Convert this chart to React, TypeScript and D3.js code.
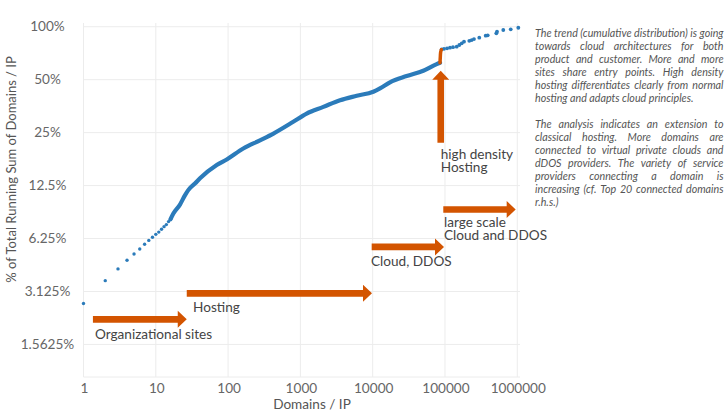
import * as d3 from 'd3';
import { useMemo } from 'react';

const W = 727;
const H = 414;

// y ticks (share of total running sum)
const yTickValues = [1, 0.5, 0.25, 0.125, 0.0625, 0.03125, 0.015625];
const yTickLabels = ['100%', '50%', '25%', '12.5%', '6.25%', '3.125%', '1.5625%'];
const xTickValues = [1, 10, 100, 1000, 10000, 100000, 1000000];

// sparse head of the distribution (one dot per domains/IP value)
const headDomains = [1, 2, 3, 4, 5, 6, 7, 8, 9, 10, 11, 12, 13, 14, 15, 16];
const headShare = [2.67, 3.6, 4.2, 4.7, 5.1, 5.45, 5.8, 6.1, 6.36, 6.6, 6.8, 7.05, 7.3, 7.5, 7.8, 8.05];

// dense body (drawn as a thick run of overlapping dots)
const bodyDomains = [16, 17.5, 21.6, 25.4, 28.1, 34.8, 40.9, 69.6, 95.8, 162, 276, 424, 796, 1220, 2074, 3532, 6010, 10190, 12620, 17340, 29500, 50100, 76800, 85300];
const bodyShare = [8.05, 8.67, 9.75, 11.03, 11.78, 12.83, 13.74, 16.34, 17.6, 20.3, 22.6, 24.7, 28.8, 32.1, 35.0, 38.2, 40.5, 42.7, 44.6, 48.3, 52.4, 56.2, 61.3, 62.4];

// high density hosting jump (highlighted)
const jumpDomains = [85300, 86000, 87000, 89000];
const jumpShare = [62.4, 66.5, 71.5, 74.0];

// sparse tail
const tailDomains = [90000, 96900, 106800, 117300, 129100, 145200, 157800, 170300, 183200, 216800, 234000, 251800, 298000, 365500, 389800, 512900, 524000, 640000, 811000, 1033000];
const tailShare = [74.4, 74.9, 75.4, 76.0, 76.5, 77.0, 78.7, 80.5, 82.2, 83.2, 84.0, 85.1, 86.6, 88.9, 89.3, 91.7, 93.7, 95.8, 96.7, 98.7];

// annotation arrows: [fromDomains, fromShare, toDomains, toShare]
const arrows: [number, number, number, number][] = [
  [1.35, 2.17, 26.8, 2.17],
  [26.8, 3.05, 9780, 3.05],
  [9680, 5.6, 96900, 5.6],
  [94700, 9.14, 950000, 9.14],
  [87300, 21.9, 87300, 56.2],
];

// annotation labels: [domains, share, lines]
const labels: [number, number, string[]][] = [
  [1.44, 1.67, ['Organizational sites']],
  [32.7, 2.38, ['Hosting']],
  [9480, 4.35, ['Cloud, DDOS']],
  [96900, 7.28, ['large scale', 'Cloud and DDOS']],
  [87300, 17.8, ['high density', 'Hosting']],
];

const para1 = [
  'The trend (cumulative distribution) is going',
  'towards cloud architectures for both',
  'product and customer. More and more',
  'sites share entry points. High density',
  'hosting differentiates clearly from normal',
  'hosting and adapts cloud principles.',
];
const para2 = [
  'The analysis indicates an extension to',
  'classical hosting. More domains are',
  'connected to virtual private clouds and',
  'dDOS providers. The variety of service',
  'providers connecting a domain is',
  'increasing (cf. Top 20 connected domains',
  'r.h.s.)',
];

const blue = '#2b7bba';
const orange = '#d35400';
const font = 'Lato, "DejaVu Sans", sans-serif';
const fsz = 13.6;

const x = d3.scaleLog().domain([1, 1090000]).range([83.5, 520]);
const y = d3.scaleLog().base(2).domain([0.0102, 1.05]).range([377, 23]);

function arrowPath(x1: number, y1: number, x2: number, y2: number) {
  const shaft = 3.3;
  const headW = 8.5;
  const headL = 9;
  const len = Math.hypot(x2 - x1, y2 - y1);
  const ux = (x2 - x1) / len;
  const uy = (y2 - y1) / len;
  const nx = -uy;
  const ny = ux;
  const bx = x2 - ux * headL;
  const by = y2 - uy * headL;
  const pts = [
    [x1 + nx * shaft, y1 + ny * shaft],
    [bx + nx * shaft, by + ny * shaft],
    [bx + nx * headW, by + ny * headW],
    [x2, y2],
    [bx - nx * headW, by - ny * headW],
    [bx - nx * shaft, by - ny * shaft],
    [x1 - nx * shaft, y1 - ny * shaft],
  ];
  return 'M' + pts.map((p) => p.join(',')).join('L') + 'Z';
}

function JustifiedText() {
  const { items, fs } = useMemo(() => {
    const canvas = document.createElement('canvas');
    const ctx = canvas.getContext('2d')!;
    const left = 535;
    const right = 723.5;
    const width = right - left;
    // pick the size at which the widest line just fits
    ctx.font = 'italic 10px Lato';
    const widest = Math.max(...para1.concat(para2).map((l) => ctx.measureText(l).width));
    const size = Math.min(11, (10 * width) / widest);
    ctx.font = `italic ${size}px Lato`;
    const lh = 13.05;
    const out: { t: string; x: number; y: number }[] = [];
    const doPara = (lines: string[], start: number) => {
      lines.forEach((line, i) => {
        const yy = 36.5 + (start + i) * lh;
        const words = line.split(' ');
        const last = i === lines.length - 1;
        const ww = words.map((w) => ctx.measureText(w).width);
        const total = ww.reduce((a, b) => a + b, 0);
        const space = last || words.length < 2 ? ctx.measureText(' ').width : (width - total) / (words.length - 1);
        let cx = left;
        words.forEach((w, k) => {
          out.push({ t: w, x: cx, y: yy });
          cx += ww[k] + space;
        });
      });
    };
    doPara(para1, 0);
    doPara(para2, 7);
    return { items: out, fs: size };
  }, []);
  return (
    <g fontFamily="Lato" fontStyle="italic" fontSize={fs} fill="#555">
      {items.map((d, i) => (
        <text key={i} x={d.x} y={d.y}>
          {d.t}
        </text>
      ))}
    </g>
  );
}

export default function App() {
  const line = d3
    .line<number>()
    .x((d, i) => x(bodyDomains[i]))
    .y((d) => y(d / 100))
    .curve(d3.curveMonotoneX);
  const jumpLine = d3
    .line<number>()
    .x((d, i) => x(jumpDomains[i]))
    .y((d) => y(d / 100))
    .curve(d3.curveMonotoneY);

  return (
    <svg width={W} height={H} style={{ position: 'absolute', left: 0, top: 0, background: '#fff' }}>
      {/* grid */}
      <g stroke="#ececec" strokeWidth={1}>
        {xTickValues.map((v) => (
          <line key={v} x1={x(v)} x2={x(v)} y1={23} y2={377} />
        ))}
        {yTickValues.map((v) => (
          <line key={v} x1={83.5} x2={520} y1={y(v)} y2={y(v)} />
        ))}
        <line x1={83.5} x2={520} y1={377} y2={377} />
      </g>
      {/* y tick labels */}
      <g fontFamily={font} fontSize={fsz} fill="#666" textAnchor="middle">
        {yTickValues.map((v, i) => (
          <text key={v} x={47.5} y={y(v) + 4.5}>
            {yTickLabels[i]}
          </text>
        ))}
      </g>
      {/* x tick labels */}
      <g fontFamily={font} fontSize={fsz} fill="#666" textAnchor="middle">
        {xTickValues.map((v) => (
          <text key={v} x={x(v) + 1} y={392.5}>
            {String(v)}
          </text>
        ))}
      </g>
      <text x={312} y={408.5} fontFamily={font} fontSize={fsz} fill="#555" textAnchor="middle">
        Domains / IP
      </text>
      <text
        transform={`translate(15.5,169.5) rotate(-90)`}
        fontFamily={font}
        fontSize={13}
        fill="#555"
        textAnchor="middle"
      >
        % of Total Running Sum of Domains / IP
      </text>

      {/* data */}
      <path d={line(bodyShare) || ''} fill="none" stroke={blue} strokeWidth={4.2} strokeLinecap="round" strokeLinejoin="round" />
      <g fill={blue}>
        {headShare.map((s, i) => (
          <circle key={'h' + i} cx={x(headDomains[i])} cy={y(s / 100)} r={1.7} />
        ))}
        {tailShare.map((s, i) => (
          <circle key={'t' + i} cx={x(tailDomains[i])} cy={y(s / 100)} r={1.9} />
        ))}
      </g>
      <path d={jumpLine(jumpShare) || ''} fill="none" stroke={orange} strokeWidth={3.5} strokeLinecap="round" />

      {/* annotation arrows */}
      <g fill={orange}>
        {arrows.map((a, i) => (
          <path key={i} d={arrowPath(x(a[0]), y(a[1] / 100), x(a[2]), y(a[3] / 100))} />
        ))}
      </g>
      <g fontFamily={font} fontSize={fsz} fill="#444">
        {labels.map((l, i) => (
          <text key={i} x={x(l[0])} y={y(l[1] / 100)}>
            {l[2].map((t, k) => (
              <tspan key={k} x={x(l[0])} dy={k === 0 ? 0 : 13}>
                {t}
              </tspan>
            ))}
          </text>
        ))}
      </g>

      <JustifiedText />
    </svg>
  );
}
